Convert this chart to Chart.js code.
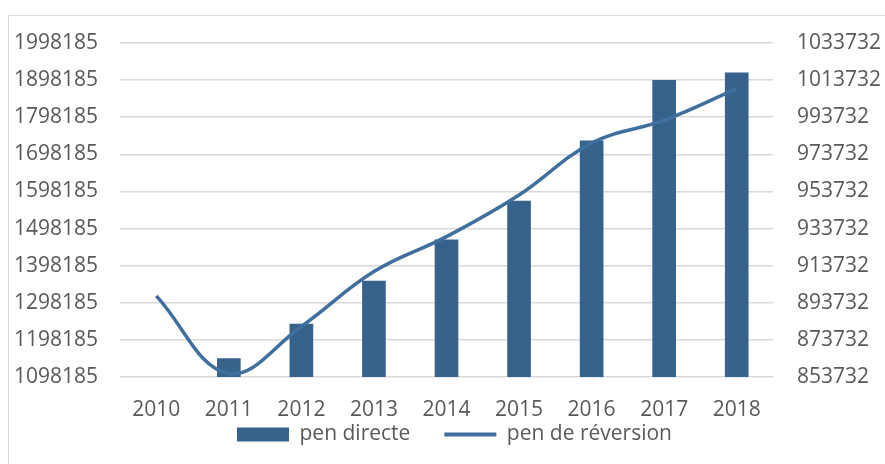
<!DOCTYPE html>
<html>
<head>
<meta charset="utf-8">
<script src="https://cdn.jsdelivr.net/npm/chart.js@4"></script>
<style>
  html, body { margin: 0; padding: 0; background: #fff; }
  #frame { position: absolute; left: 8px; top: 15px; width: 900px; height: 470px; border: 1px solid #d9d9d9; }
  #wrap { position: absolute; left: 0; top: 0; width: 885px; height: 464px; }
</style>
</head>
<body>
<div id="frame"></div>
<div id="wrap"><canvas id="chart" width="885" height="464"></canvas></div>
<script>
const years = ['2010','2011','2012','2013','2014','2015','2016','2017','2018'];
const penDirecte = [null, 1148000, 1240700, 1356400, 1467500, 1572400, 1734600, 1897800, 1917500];
const penReversion = [897460, 855500, 880950, 910530, 929360, 951800, 979760, 992140, 1009190];

const textGrey = '#595959';
const fontFam = "'Open Sans', sans-serif";

// legend sits right under the x labels, like excel does
const legendUnderAxis = {
  id: 'legendUnderAxis',
  afterLayout(chart) {
    const lg = chart.legend;
    lg.top = chart.chartArea.bottom + 13;
    lg.bottom = chart.height;
    lg.height = lg.bottom - lg.top;
    lg.left += 24;
    lg.width = lg.right - lg.left;
  }
};

const ctx = document.getElementById('chart').getContext('2d');
new Chart(ctx, {
  type: 'bar',
  data: {
    labels: years,
    datasets: [{
      type: 'line',
      label: 'pen de réversion',
      data: penReversion,
      yAxisID: 'y2',
      borderColor: '#3f6f9e',
      backgroundColor: '#3f6f9e',
      borderWidth: 3.5,
      pointRadius: 0,
      tension: 0.4,
      fill: false,
      clip: false,
      order: 1
    }, {
      label: 'pen directe',
      data: penDirecte,
      yAxisID: 'y',
      backgroundColor: '#37628b',
      barThickness: 23,
      order: 2
    }]
  },
  plugins: [legendUnderAxis],
  options: {
    responsive: false,
    animation: false,
    layout: { padding: { top: 43, left: 0, right: 0, bottom: 0 } },
    plugins: {
      tooltip: { enabled: false },
      legend: {
        position: 'bottom',
        reverse: true,
        maxHeight: 45,
        labels: {
          color: textGrey,
          font: { family: fontFam, size: 21 },
          usePointStyle: true,
          pointStyleWidth: 52,
          boxHeight: 14,
          padding: 34,
          generateLabels(chart) {
            return chart.data.datasets.map((ds, i) => ({
              text: ds.label,
              fillStyle: ds.backgroundColor,
              strokeStyle: ds.type === 'line' ? ds.borderColor : ds.backgroundColor,
              lineWidth: ds.type === 'line' ? 4 : 0,
              pointStyle: ds.type === 'line' ? 'line' : 'rect',
              fontColor: textGrey,
              datasetIndex: i
            }));
          }
        }
      }
    },
    scales: {
      x: {
        grid: { display: false },
        border: { display: false },
        ticks: { color: textGrey, font: { family: fontFam, size: 21 }, padding: 12 },
        afterFit(s) { s.height = 42; }
      },
      y: {
        position: 'left',
        min: 1098185,
        max: 1998185,
        grid: { color: '#d9d9d9', lineWidth: 1.5, drawTicks: false },
        border: { display: false },
        ticks: {
          stepSize: 100000,
          color: textGrey,
          font: { family: fontFam, size: 21 },
          padding: 22,
          callback: v => String(v)
        },
        afterFit(s) { s.width = 120; }
      },
      y2: {
        position: 'right',
        min: 853732,
        max: 1033732,
        grid: { display: false, drawTicks: false },
        border: { display: false },
        ticks: {
          stepSize: 20000,
          color: textGrey,
          font: { family: fontFam, size: 21 },
          padding: 24,
          callback: v => String(v)
        },
        afterFit(s) { s.width = 112; }
      }
    }
  }
});
</script>
</body>
</html>
